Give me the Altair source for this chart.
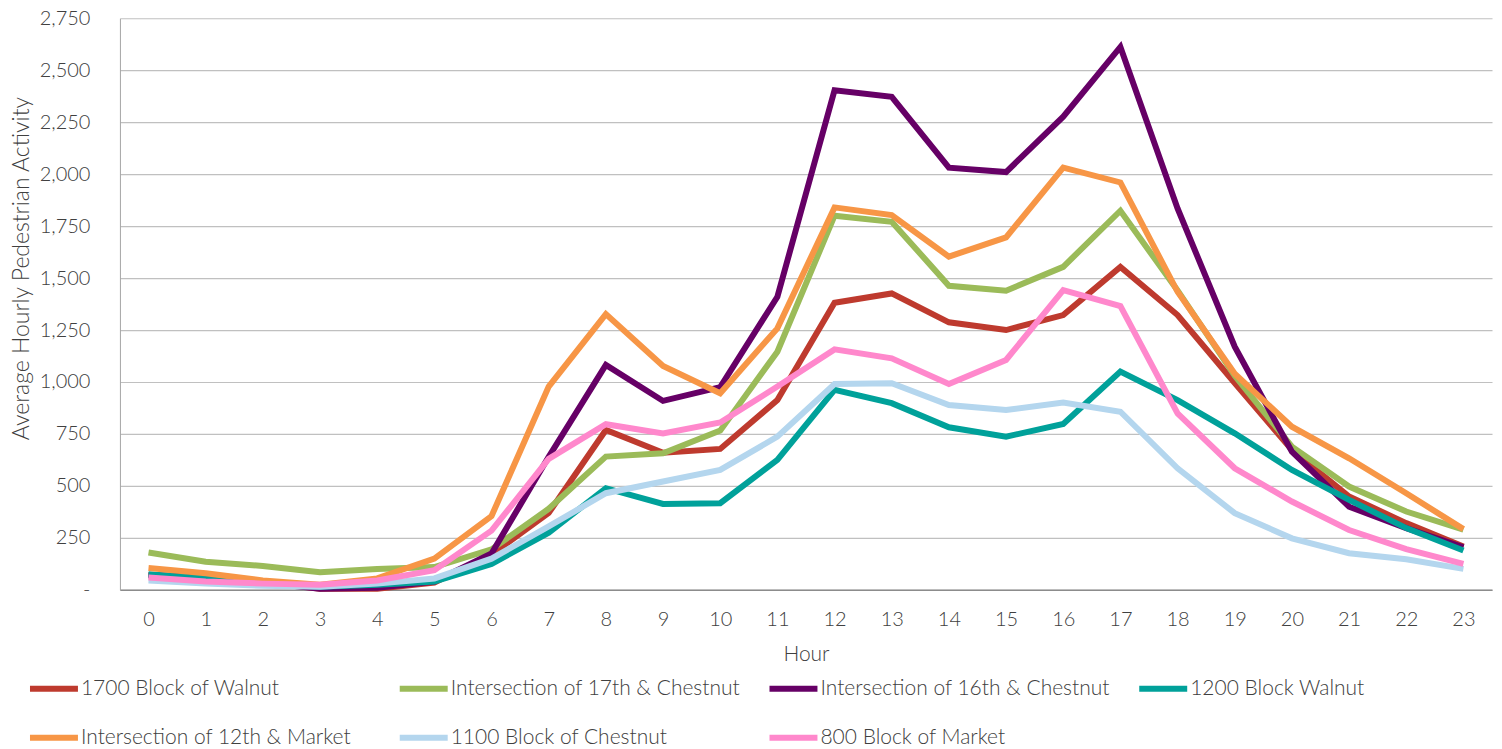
import altair as alt
import pandas as pd

hours = list(range(24))
series_names = [
    "1700 Block of Walnut",
    "Intersection of 17th & Chestnut",
    "Intersection of 16th & Chestnut",
    "1200 Block Walnut",
    "Intersection of 12th & Market",
    "1100 Block of Chestnut",
    "800 Block of Market",
]
colors = ["#BE3A2E", "#9BBB59", "#660066", "#00A19A", "#F79646", "#B4D6EE", "#FF88CC"]

walnut_1700 = [70, 65, 40, 5, 5, 35, 170, 370, 769, 660, 678, 913, 1381, 1426, 1287, 1250, 1322, 1554, 1322, 995, 673, 449, 321, 208]
chestnut_17th = [180, 135, 115, 85, 100, 110, 195, 390, 641, 657, 766, 1146, 1800, 1771, 1463, 1439, 1554, 1824, 1440, 1030, 689, 497, 377, 290]
chestnut_16th = [70, 60, 35, 5, 10, 40, 175, 640, 1082, 909, 975, 1410, 2404, 2372, 2031, 2010, 2276, 2612, 1835, 1170, 665, 400, 297, 205]
walnut_1200 = [75, 55, 30, 15, 25, 40, 125, 275, 489, 413, 417, 625, 962, 898, 782, 737, 798, 1050, 913, 753, 577, 433, 297, 189]
market_12th = [105, 80, 45, 25, 55, 150, 355, 978, 1327, 1077, 946, 1258, 1840, 1803, 1603, 1696, 2031, 1960, 1434, 1040, 785, 633, 465, 292]
chestnut_1100 = [45, 30, 20, 15, 30, 55, 150, 305, 465, 521, 577, 737, 990, 994, 889, 865, 901, 857, 585, 369, 248, 176, 147, 101]
market_800 = [60, 40, 30, 25, 45, 95, 285, 630, 797, 753, 805, 978, 1157, 1114, 990, 1106, 1442, 1365, 849, 585, 425, 288, 196, 125]

all_series = [walnut_1700, chestnut_17th, chestnut_16th, walnut_1200, market_12th, chestnut_1100, market_800]
y_ticks = list(range(0, 2751, 250))

rows = []
for idx, (name, vals) in enumerate(zip(series_names, all_series)):
    for h, v in zip(hours, vals):
        rows.append({"Hour": h, "Value": v, "Series": name, "order": idx})
df = pd.DataFrame(rows)

FONT = "Lato"
TXT = "#404040"

chart = (
    alt.Chart(df)
    .mark_line(strokeWidth=6, strokeJoin="miter", strokeCap="butt")
    .encode(
        x=alt.X(
            "Hour:O",
            sort=hours,
            scale=alt.Scale(type="point", padding=0.5),
            axis=alt.Axis(
                title="Hour",
                labelAngle=0,
                labelFontSize=20,
                labelPadding=20,
                titleFontSize=21,
                titlePadding=14,
                ticks=False,
                grid=False,
                domainColor="#8C8C8C",
                domainWidth=1.5,
            ),
        ),
        y=alt.Y(
            "Value:Q",
            scale=alt.Scale(domain=[0, 2750], nice=False),
            axis=alt.Axis(
                title="Average Hourly Pedestrian Activity",
                values=y_ticks,
                labelExpr="datum.value == 0 ? '-' : format(datum.value, ',')",
                labelFontSize=20,
                labelPadding=30,
                titleFontSize=23,
                titleX=-98,
                titleY=250,
                titleBaseline="middle",
                titleLimit=600,
                ticks=False,
                grid=True,
                gridColor="#C0C0C0",
                gridWidth=1.2,
                domainColor="#A6A6A6",
                domainWidth=1,
            ),
        ),
        color=alt.Color(
            "Series:N",
            scale=alt.Scale(domain=series_names, range=colors),
            legend=alt.Legend(
                title=None,
                orient="none",
                legendX=-93,
                legendY=644,
                direction="horizontal",
                columns=4,
                gridAlign="all",
                columnPadding=17,
                rowPadding=10,
                symbolType="stroke",
                symbolSize=2304,
                symbolStrokeWidth=6,
                labelFontSize=21,
                labelOffset=0,
                labelLimit=400,
            ),
        ),
        order=alt.Order("order:Q"),
    )
    .properties(
        width=1373,
        height=572,
        autosize=alt.AutoSizeParams(type="none"),
        padding={"left": 112, "top": 10, "right": 2, "bottom": 159},
    )
    .configure(font=FONT)
    .configure_axis(labelColor=TXT, titleColor=TXT, labelFontWeight=300, titleFontWeight=300)
    .configure_legend(labelColor=TXT, labelFontWeight=300)
    .configure_view(stroke=None)
)

chart.save("out.html", embed_options={"renderer": "svg", "actions": False})
